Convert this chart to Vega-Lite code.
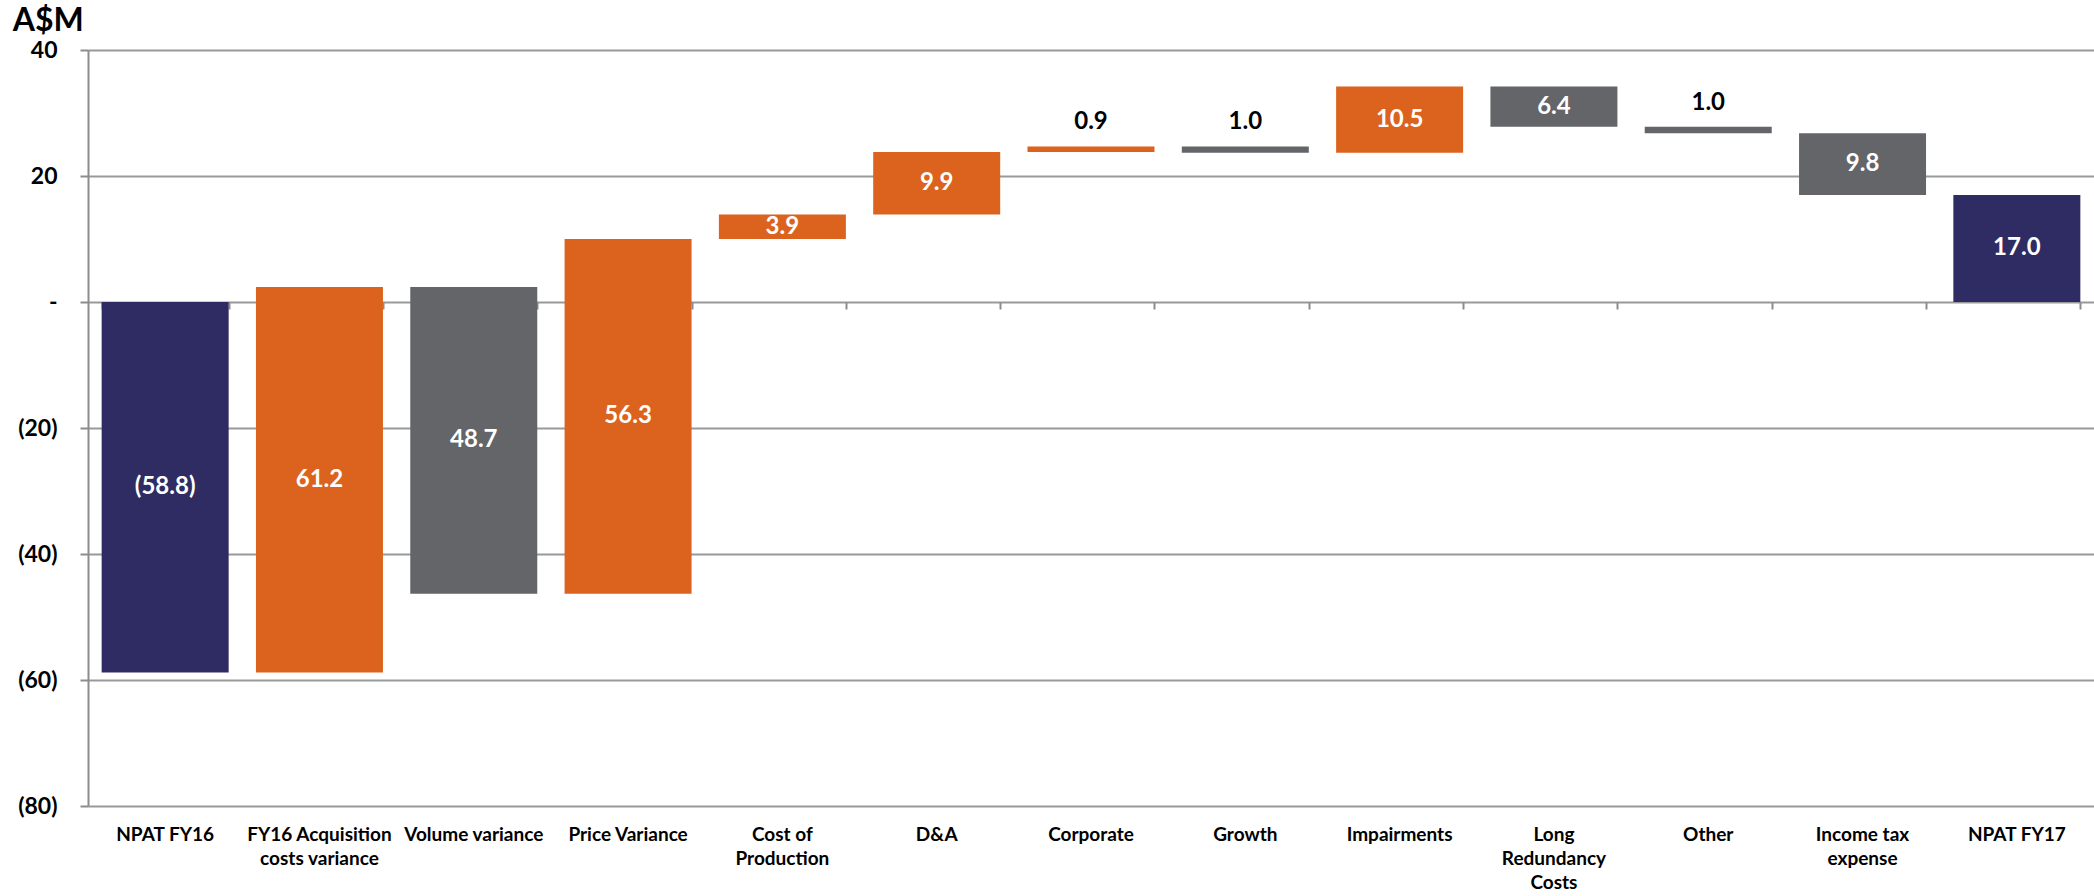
{
  "$schema": "https://vega.github.io/schema/vega-lite/v6.json",
  "width": 2006,
  "height": 756,
  "autosize": {"type": "none"},
  "padding": {"left": 88, "top": 50, "right": 0, "bottom": 90},
  "background": "#ffffff",
  "title": {
    "text": "A$M",
    "anchor": "start",
    "frame": "bounds",
    "font": "Lato",
    "fontSize": 32,
    "fontWeight": "bold",
    "color": "#000000",
    "baseline": "alphabetic",
    "offset": 5,
    "dx": -5,
    "dy": 29
  },
  "data": {
    "values": [
      {"cat": "NPAT FY16", "start": 0, "end": -58.8, "type": "total", "label": "(58.8)"},
      {"cat": "FY16 Acquisition costs variance", "start": -58.8, "end": 2.4, "type": "increase", "label": "61.2"},
      {"cat": "Volume variance", "start": 2.4, "end": -46.3, "type": "decrease", "label": "48.7"},
      {"cat": "Price Variance", "start": -46.3, "end": 10.0, "type": "increase", "label": "56.3"},
      {"cat": "Cost of Production", "start": 10.0, "end": 13.9, "type": "increase", "label": "3.9"},
      {"cat": "D&A", "start": 13.9, "end": 23.8, "type": "increase", "label": "9.9"},
      {"cat": "Corporate", "start": 23.8, "end": 24.7, "type": "increase", "label": "0.9"},
      {"cat": "Growth", "start": 24.7, "end": 23.7, "type": "decrease", "label": "1.0"},
      {"cat": "Impairments", "start": 23.7, "end": 34.2, "type": "increase", "label": "10.5"},
      {"cat": "Long Redundancy Costs", "start": 34.2, "end": 27.8, "type": "decrease", "label": "6.4"},
      {"cat": "Other", "start": 27.8, "end": 26.8, "type": "decrease", "label": "1.0"},
      {"cat": "Income tax expense", "start": 26.8, "end": 17.0, "type": "decrease", "label": "9.8"},
      {"cat": "NPAT FY17", "start": 0, "end": 17.0, "type": "total", "label": "17.0"}
    ]
  },
  "transform": [
    {"calculate": "(datum.start + datum.end) / 2", "as": "mid"},
    {"calculate": "max(datum.start, datum.end)", "as": "top"},
    {"calculate": "abs(datum.end - datum.start) < 2", "as": "small"}
  ],
  "layer": [
    {
      "mark": {"type": "bar"},
      "encoding": {
        "x": {
          "field": "cat",
          "type": "nominal",
          "sort": null,
          "scale": {"paddingInner": 0.177, "paddingOuter": 0.0885},
          "axis": {
            "title": null,
            "domain": false,
            "ticks": false,
            "grid": false,
            "labelAngle": 0,
            "labelFont": "Lato",
            "labelFontSize": 19,
            "labelFontWeight": "bold",
            "labelColor": "#000000",
            "labelPadding": 19,
            "labelBaseline": "top",
            "labelLineHeight": 24,
            "labelLimit": 0,
            "labelExpr": "datum.value == 'FY16 Acquisition costs variance' ? ['FY16 Acquisition', 'costs variance'] : datum.value == 'Cost of Production' ? ['Cost of', 'Production'] : datum.value == 'Long Redundancy Costs' ? ['Long', 'Redundancy', 'Costs'] : datum.value == 'Income tax expense' ? ['Income tax', 'expense'] : datum.value"
          }
        },
        "y": {
          "field": "start",
          "type": "quantitative",
          "title": null,
          "scale": {"domain": [-80, 40], "nice": false, "zero": false},
          "axis": {
            "values": [-80, -60, -40, -20, 0, 20, 40],
            "labelExpr": "datum.value == 0 ? '-' : datum.value < 0 ? '(' + format(-datum.value, 'd') + ')' : format(datum.value, 'd')",
            "labelFont": "Lato",
            "labelFontSize": 23,
            "labelFontWeight": "bold",
            "labelColor": "#000000",
            "labelPadding": 23,
            "tickSize": 8,
            "tickColor": "#8c8c8c",
            "tickWidth": 2,
            "domainColor": "#8c8c8c",
            "domainWidth": 2,
            "grid": true,
            "gridColor": "#999999",
            "gridWidth": 2
          }
        },
        "y2": {"field": "end"},
        "color": {
          "field": "type",
          "type": "nominal",
          "scale": {"domain": ["total", "increase", "decrease"], "range": ["#2E2C62", "#DC631E", "#636569"]},
          "legend": null
        }
      }
    },
    {
      "transform": [{"filter": "!datum.small"}],
      "mark": {"type": "text", "font": "Lato", "fontSize": 24, "fontWeight": "bold", "color": "#ffffff", "baseline": "middle", "align": "center"},
      "encoding": {
        "x": {
          "field": "cat",
          "type": "nominal",
          "sort": null,
          "axis": {
            "orient": "top",
            "title": null,
            "labels": false,
            "domain": false,
            "grid": false,
            "ticks": true,
            "tickBand": "extent",
            "tickSize": -7,
            "tickColor": "#8c8c8c",
            "tickWidth": 2,
            "offset": -252
          }
        },
        "y": {"field": "mid", "type": "quantitative", "title": null},
        "text": {"field": "label"}
      }
    },
    {
      "transform": [{"filter": "datum.small"}],
      "mark": {"type": "text", "font": "Lato", "fontSize": 24, "fontWeight": "bold", "color": "#000000", "baseline": "bottom", "align": "center", "dy": -12},
      "encoding": {
        "x": {"field": "cat", "type": "nominal", "sort": null, "axis": null},
        "y": {"field": "top", "type": "quantitative", "title": null},
        "text": {"field": "label"}
      }
    }
  ],
  "resolve": {"axis": {"x": "independent"}},
  "config": {"view": {"stroke": null}}
}
